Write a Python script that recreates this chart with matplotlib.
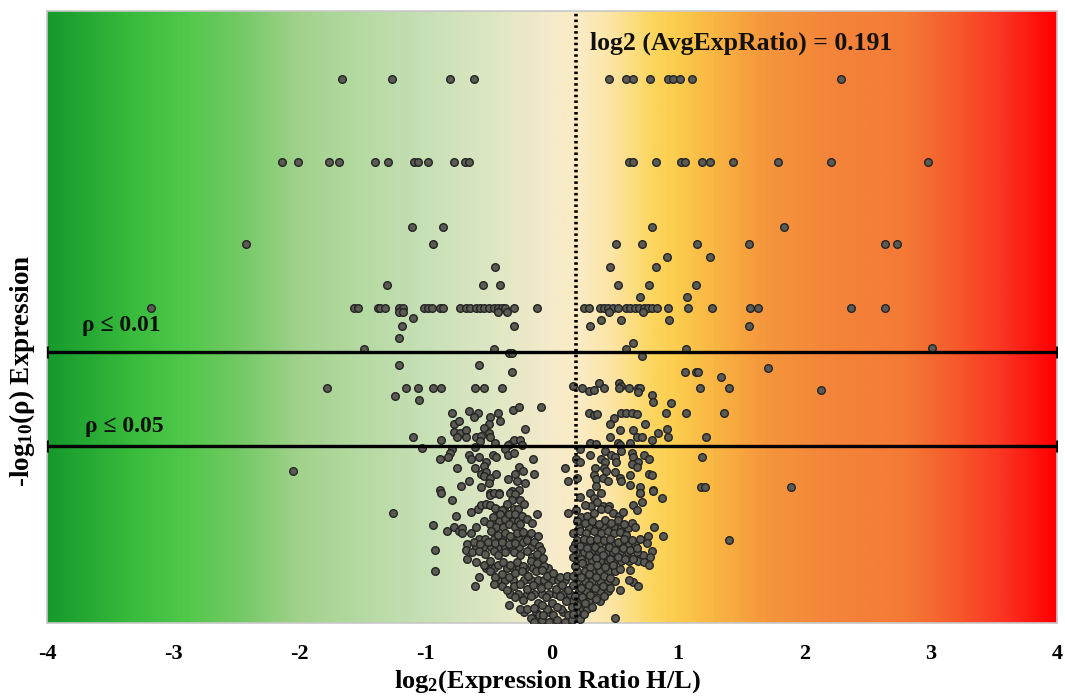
import numpy as np
import matplotlib
matplotlib.use("Agg")
import matplotlib.pyplot as plt
from matplotlib.colors import LinearSegmentedColormap

plt.rcParams['font.family'] = ['Liberation Serif', 'DejaVu Serif']
plt.rcParams['mathtext.fontset'] = 'custom'
plt.rcParams['mathtext.rm'] = 'Liberation Serif:bold'
plt.rcParams['mathtext.it'] = 'Liberation Serif:bold:italic'
plt.rcParams['mathtext.bf'] = 'Liberation Serif:bold'
plt.rcParams['mathtext.default'] = 'rm'

# ---------------- data ----------------
avg_log2_ratio = 0.191
p_thresholds = [0.01, 0.05]
x_ticks = [-4, -3, -2, -1, 0, 1, 2, 3, 4]

# discrete -log10(p) levels with their log2 ratios
row_levels = [4.01, 3.40, 2.92, 2.79, 2.70, 2.62, 2.49, 2.40, 2.32, 2.29, 2.19, 2.02]
row_ratios = [
    [-1.66, -1.27, -0.81, -0.62, 0.45, 0.59, 0.64, 0.78, 0.92, 0.96, 1.01, 1.11, 2.29],
    [-2.14, -2.01, -1.77, -1.69, -1.40, -1.30, -1.09, -1.06, -0.98, -0.78, -0.69, -0.66,
     0.61, 0.64, 0.82, 1.02, 1.05, 1.19, 1.25, 1.43, 1.79, 2.21, 2.98],
    [-1.11, -0.86, 0.79, 1.84],
    [-2.42, -0.94, 0.51, 0.71, 1.15, 1.56, 2.64, 2.73],
    [0.91, 1.25],
    [-0.45, 0.46, 0.82],
    [-1.31, -0.55, -0.41, 0.52, 0.77, 1.14],
    [0.70, 1.07],
    [-3.18, -1.57, -1.54, -1.38, -1.36, -1.32, -1.21, -1.18, -1.01, -0.98, -0.95, -0.89,
     -0.86, -0.73, -0.68, -0.65, -0.60, -0.57, -0.54, -0.50, -0.46, -0.43, -0.40, -0.37,
     -0.30, -0.12, 0.25, 0.29, 0.38, 0.41, 0.44, 0.48, 0.52, 0.59, 0.62, 0.66, 0.69, 0.73,
     0.76, 0.79, 0.83, 0.92, 1.08, 1.27, 1.57, 1.63, 2.37, 2.64],
    [-1.21, -1.18, -0.43, -0.36, 0.45, 0.72],
    [-1.19, -0.30, 0.30, 1.56],
    [-1.49, -0.46, 0.59, 1.06],
]

# scattered proteins above the p=0.05 line
upper_ratio = [-1.10, 0.39, 0.55, 0.93, -1.21, 0.64, 3.01, -0.34, -0.32, 0.71, -1.21, -0.58,
               -0.32, -1.16, -1.06, -0.94, -0.88, -0.61, -0.54, -0.40, -1.78, -1.24, -1.05,
               -0.09, -0.31, -0.26, -0.79, -0.66, -0.59, -0.62, -0.49, -0.43, -0.41, -0.78,
               -0.74, -0.50, -0.21, -0.54, -0.78, -0.73, -0.68, -0.75, -0.68, -0.60, -0.56,
               -0.50, -0.49, -0.57, -1.10, -0.88, -0.45, -0.33, -0.30, -0.25, -0.35, -0.24,
               1.05, 1.14, 1.16, 1.34, 0.17, 0.24, 0.29, 0.33, 0.37, 0.41, 0.53, 0.55, 0.53,
               0.61, 0.68, 0.70, 0.68, 1.17, 1.40, 0.79, 0.80, 0.94, 0.29, 0.33, 0.36, 0.55,
               0.59, 0.63, 0.67, 0.90, 1.06, 1.36, 0.49, 0.46, 0.74, 0.54, 0.64, 0.91, 0.84,
               0.92, 0.79, 0.67, 0.71, 0.46, 1.22, 0.30, 0.35, 0.52, 0.54, 0.62, 1.71, 2.13]
upper_logp = [2.25, 2.23, 2.23, 2.23, 2.10, 2.06, 2.03, 1.99, 1.99, 1.97, 1.90, 1.90,
              1.85, 1.73, 1.73, 1.73, 1.73, 1.73, 1.73, 1.73, 1.73, 1.67, 1.64,
              1.59, 1.57, 1.59, 1.55, 1.56, 1.55, 1.52, 1.52, 1.55, 1.49, 1.47,
              1.49, 1.47, 1.43, 1.44, 1.41, 1.40, 1.42, 1.37, 1.37, 1.37, 1.38,
              1.40, 1.37, 1.34, 1.37, 1.35, 1.33, 1.32, 1.35, 1.35, 1.31, 1.31,
              1.85, 1.85, 1.85, 1.81, 1.75, 1.73, 1.71, 1.72, 1.77, 1.73, 1.77, 1.75, 1.73,
              1.73, 1.73, 1.73, 1.70, 1.73, 1.73, 1.68, 1.63, 1.62, 1.55, 1.53, 1.54, 1.55,
              1.55, 1.55, 1.54, 1.55, 1.55, 1.55, 1.51, 1.47, 1.47, 1.42, 1.42, 1.43, 1.40,
              1.37, 1.35, 1.37, 1.37, 1.37, 1.37, 1.33, 1.32, 1.33, 1.31, 1.33, 1.88, 1.72]

# proteins just under the p=0.05 line (0.95 - 1.3)
mid_ratio = [-1.03, -0.61, -0.79, -0.81, -0.89, -0.82, -0.66, -0.64, -0.58, -0.47, -0.44,
             -0.37, -0.35, -0.30, -0.52, -0.54, -0.61, -0.15, -0.75, -0.56, -0.52, -0.54,
             -0.49, -0.44, -0.26, -0.29, -0.23, -0.14, 0.10, -0.66, -0.72, -0.56, -0.50,
             -0.35, -0.28, -0.21, -0.89, -0.49, -0.42, -0.32, -0.26, 0.13, -2.05,
             0.22, 0.30, 0.42, 0.47, 0.55, 0.63, 0.64, 0.73, 0.77, 0.19, 0.22, 0.39, 0.42,
             0.50, 0.51, 0.68, 0.63, 0.67, 1.19, 0.34, 0.41, 0.43, 0.50, 0.20, 0.33, 0.35,
             0.40, 0.44, 0.54, 0.55, 0.62, 0.77, 0.79, 0.62, 0.70, 0.80, 0.70, 0.35, 0.30,
             0.39, 1.18, 1.21, 1.89]
mid_logp = [1.29, 1.30, 1.28, 1.25, 1.21, 1.22, 1.24, 1.21, 1.22, 1.24, 1.22,
            1.28, 1.24, 1.25, 1.19, 1.16, 1.14, 1.21, 1.14, 1.10, 1.11, 1.08,
            1.07, 1.10, 1.15, 1.10, 1.12, 1.10, 1.14, 1.05, 1.01, 1.00, 1.03,
            1.06, 1.05, 1.03, 0.98, 0.96, 0.96, 0.97, 0.98, 1.05, 1.12,
            1.28, 1.24, 1.27, 1.24, 1.27, 1.25, 1.22, 1.24, 1.21, 1.21, 1.19, 1.21, 1.19,
            1.22, 1.19, 1.19, 1.17, 1.15, 1.22, 1.14, 1.14, 1.12, 1.11, 1.07, 1.09, 1.06,
            1.07, 1.05, 1.07, 1.05, 1.09, 1.10, 1.09, 1.02, 1.00, 0.98, 0.96, 1.01, 0.96,
            0.96, 1.00, 1.00, 1.00]

# non-significant bulk, lower-left arm
low_left_ratio = [-0.88, -0.79, -0.94, -0.93, -0.93, -0.76, -1.26,
                  -0.83, -0.78, -0.74, -0.71, -0.71, -0.64, -0.60,
                  -0.64, -0.59, -0.56, -0.52,
                  -0.49, -0.46, -0.42, -0.33, -0.29, -0.32, -0.25, -0.22,
                  -0.49, -0.45, -0.40, -0.36, 0.13,
                  -0.47, -0.41, -0.37, -0.34, -0.29, -0.24, -0.20, -0.12, -0.16,
                  -0.49, -0.44, -0.39, -0.34, -0.29, -0.25,
                  -0.48, -0.43, -0.37, -0.33, -0.28, -0.23, -0.17, -0.11,
                  -0.67, -0.62, -0.57, -0.51, -0.45, -0.40, -0.34, -0.29, -0.23, -0.20, -0.14, -0.10, -0.09,
                  -0.68, -0.63, -0.58, -0.53, -0.46, -0.43, -0.37, -0.30, -0.25, -0.20, -0.16, -0.12, -0.07,
                  -0.67, -0.60, -0.54, -0.49, -0.43, -0.39, -0.33, -0.28, -0.23, -0.17, -0.12, -0.06,
                  -0.58, -0.61,
                  -0.49, -0.45, -0.40, -0.34, -0.29, -0.24, -0.19, -0.13, -0.08, -0.04, 0.01, 0.06, 0.12,
                  -0.46, -0.40, -0.36, -0.30, -0.25, -0.20, -0.15, -0.09, -0.03, 0.03, 0.08, 0.13,
                  -0.34, -0.25, -0.29, -0.23, -0.17, -0.11, -0.05, 0.00, 0.06, 0.11, -0.17, -0.10,
                  -0.04, 0.01, 0.07, 0.13,
                  -0.14, -0.08, -0.02, 0.04, 0.10, 0.16, -0.20, -0.14, -0.08, 0.04, 0.16, 0.22, -0.07, 0.19]
low_left_logp = [0.96, 0.91, 0.72, 0.54, 0.38, 0.79, 0.81,
                 0.68, 0.71, 0.68, 0.70, 0.66, 0.66, 0.71,
                 0.82, 0.84, 0.87, 0.88,
                 0.94, 0.96, 0.95, 0.96, 0.95, 0.91, 0.91, 0.88,
                 0.87, 0.85, 0.83, 0.88, 0.81,
                 0.78, 0.80, 0.77, 0.80, 0.80, 0.79, 0.77, 0.80, 0.74,
                 0.73, 0.71, 0.71, 0.73, 0.71, 0.73,
                 0.68, 0.65, 0.66, 0.64, 0.66, 0.67, 0.66, 0.64,
                 0.58, 0.60, 0.58, 0.60, 0.59, 0.60, 0.58, 0.59, 0.60, 0.61, 0.60, 0.57, 0.54,
                 0.54, 0.52, 0.53, 0.51, 0.53, 0.50, 0.52, 0.52, 0.50, 0.53, 0.49, 0.51, 0.48,
                 0.47, 0.45, 0.43, 0.46, 0.43, 0.45, 0.43, 0.45, 0.42, 0.46, 0.44, 0.42,
                 0.34, 0.27,
                 0.38, 0.34, 0.36, 0.34, 0.37, 0.38, 0.35, 0.38, 0.39, 0.35, 0.37, 0.34, 0.35,
                 0.29, 0.27, 0.24, 0.27, 0.29, 0.25, 0.28, 0.26, 0.28, 0.25, 0.28, 0.24,
                 0.13, 0.10, 0.19, 0.17, 0.20, 0.15, 0.19, 0.15, 0.20, 0.16, 0.04, 0.06,
                 0.10, 0.06, 0.10, 0.06,
                 0.01, 0.02, 0.01, 0.02, 0.01, 0.02, 0.10, 0.11, 0.13, 0.12, 0.12, 0.03, 0.06, 0.08]

# non-significant bulk, lower-right arm
low_right_ratio = [0.70, 0.80, 0.87, 0.33, 0.36, 0.22, 0.26,
                   0.64, 0.71, 0.67, 0.81, 0.88, 1.40,
                   0.19, 0.23, 0.28, 0.33, 0.39, 0.44, 0.48, 0.53, 0.56, 0.20, 0.26, 0.32, 0.37,
                   0.42, 0.47, 0.52, 0.57, 0.63, 0.66,
                   0.70, 0.76, 0.75, 0.79, 0.78, 0.72, 0.67, 0.64, 0.73, 0.77,
                   0.17, 0.22, 0.27, 0.33, 0.39, 0.44, 0.49, 0.54, 0.59, 0.20, 0.25, 0.30, 0.36,
                   0.41, 0.46, 0.52, 0.57, 0.63,
                   0.17, 0.22, 0.28, 0.34, 0.39, 0.45, 0.50, 0.56, 0.62, 0.67,
                   0.17, 0.23, 0.29, 0.35, 0.40, 0.46, 0.52, 0.58,
                   0.18, 0.24, 0.30, 0.36, 0.42, 0.48, 0.54, 0.62,
                   0.17, 0.23, 0.29, 0.35, 0.41, 0.46,
                   0.64, 0.68, 0.54, 0.46, 0.61,
                   0.17, 0.23, 0.29, 0.34, 0.40,
                   0.18, 0.24, 0.30, 0.35, 0.41,
                   0.20, 0.26, 0.32, 0.17, 0.25, 0.50]
low_right_logp = [0.96, 0.97, 0.92, 0.92, 0.89, 0.93, 0.87,
                  0.87, 0.89, 0.83, 0.71, 0.64, 0.61,
                  0.83, 0.78, 0.79, 0.81, 0.84, 0.84, 0.81, 0.79, 0.82, 0.75, 0.74, 0.75, 0.73,
                  0.76, 0.74, 0.76, 0.73, 0.74, 0.71,
                  0.62, 0.64, 0.59, 0.53, 0.49, 0.50, 0.52, 0.47, 0.45, 0.43,
                  0.66, 0.68, 0.66, 0.68, 0.66, 0.68, 0.66, 0.67, 0.65, 0.61, 0.62, 0.61, 0.62,
                  0.61, 0.62, 0.60, 0.62, 0.61,
                  0.55, 0.57, 0.55, 0.56, 0.54, 0.56, 0.54, 0.55, 0.54, 0.55,
                  0.49, 0.47, 0.50, 0.48, 0.50, 0.47, 0.49, 0.47,
                  0.42, 0.44, 0.41, 0.43, 0.41, 0.43, 0.40, 0.39,
                  0.35, 0.34, 0.36, 0.34, 0.35, 0.33,
                  0.30, 0.27, 0.24, 0.26, 0.32,
                  0.28, 0.26, 0.28, 0.26, 0.27,
                  0.20, 0.19, 0.21, 0.18, 0.20,
                  0.13, 0.15, 0.12, 0.07, 0.07, 0.04]

# densely packed proteins hidden between the rows above (left arm)
dense_left_ratio = [-0.43, -0.37, -0.31, -0.22, -0.17, -0.11, -0.06, 0.00, 0.05, 0.10,
                    -0.33, -0.27, -0.20, -0.14, -0.08, -0.02, 0.03, 0.09, 0.14,
                    -0.22, -0.13, -0.02, 0.09, 0.21,
                    -0.52, -0.46, -0.36, -0.31, -0.26, -0.21, -0.15, -0.10, -0.03,
                    -0.60, -0.55, -0.48, -0.43, -0.37, -0.32, -0.26, -0.17,
                    -0.58, -0.53, -0.46, -0.40, -0.31, -0.26, -0.20,
                    -0.54, -0.46, -0.42, -0.31, -0.27,
                    -0.44, -0.38, -0.30, -0.27]
dense_left_logp = [0.315, 0.315, 0.315, 0.315, 0.315, 0.315, 0.315, 0.315, 0.315, 0.315,
                   0.215, 0.215, 0.215, 0.215, 0.215, 0.215, 0.215, 0.215, 0.215,
                   0.08, 0.08, 0.08, 0.08, 0.08,
                   0.405, 0.405, 0.405, 0.405, 0.405, 0.405, 0.405, 0.405, 0.405,
                   0.56, 0.56, 0.56, 0.56, 0.56, 0.56, 0.56, 0.56,
                   0.62, 0.62, 0.62, 0.62, 0.62, 0.62, 0.62,
                   0.75, 0.75, 0.75, 0.75, 0.75,
                   0.84, 0.84, 0.84, 0.84]

# densely packed proteins hidden between the rows above (right arm)
dense_right_ratio = [0.20, 0.26, 0.32, 0.38, 0.44, 0.50,
                     0.21, 0.27, 0.33, 0.38, 0.44,
                     0.17, 0.23, 0.29, 0.38,
                     0.21, 0.28,
                     0.20, 0.26, 0.32, 0.38, 0.44, 0.50,
                     0.20, 0.27, 0.32, 0.38, 0.44, 0.49, 0.55, 0.61, 0.68,
                     0.19, 0.25, 0.31, 0.37, 0.43, 0.48, 0.54, 0.60,
                     0.18, 0.24, 0.31, 0.37, 0.44, 0.49, 0.55, 0.61, 0.66,
                     0.21, 0.29, 0.35, 0.41, 0.50, 0.55, 0.60,
                     0.31, 0.40, 0.45]
dense_right_logp = [0.31, 0.31, 0.31, 0.31, 0.31, 0.31,
                    0.235, 0.235, 0.235, 0.235, 0.235,
                    0.16, 0.16, 0.16, 0.16,
                    0.10, 0.10,
                    0.38, 0.38, 0.38, 0.38, 0.38, 0.38,
                    0.455, 0.455, 0.455, 0.455, 0.455, 0.455, 0.455, 0.455, 0.455,
                    0.52, 0.52, 0.52, 0.52, 0.52, 0.52, 0.52, 0.52,
                    0.585, 0.585, 0.585, 0.585, 0.585, 0.585, 0.585, 0.585, 0.585,
                    0.70, 0.70, 0.70, 0.70, 0.70, 0.70, 0.70,
                    0.865, 0.865, 0.865]

# ---------------- figure ----------------
fig = plt.figure(figsize=(10.65, 6.96), dpi=100)
ax = fig.add_axes([47/1065, 1-623/696, (1057-47)/1065, (623-11)/696])

y_top = 4.51
bg_stops = [(-4.0, '#169a2c'), (-3.3, '#3bbd3d'), (-2.9, '#52c84b'), (-2.5, '#72c964'),
            (-2.0, '#a2d28c'), (-1.5, '#b6daa3'), (-1.0, '#c7e0b6'), (-0.5, '#dde6c3'),
            (0.0, '#f6ebcb'), (0.25, '#fbebc2'), (0.5, '#fde4a0'), (0.8, '#fcd65e'),
            (1.0, '#fccc4e'), (1.3, '#f9b542'), (1.7, '#f5963c'), (2.2, '#f4853a'),
            (2.8, '#f47a36'), (3.2, '#f65b2c'), (3.6, '#fa3322'), (4.0, '#ff0000')]
cmap = LinearSegmentedColormap.from_list(
    'bg', [((v + 4) / 8, c) for v, c in bg_stops])
grad = np.linspace(0, 1, 800).reshape(1, -1)
ax.imshow(grad, extent=[-4, 4, 0, y_top], aspect='auto', cmap=cmap,
          interpolation='bilinear', zorder=0)

marker_kw = dict(s=30, facecolor='#5b5b54', edgecolor='#232323', linewidths=1.0, zorder=3)
for lvl, xs in zip(row_levels, row_ratios):
    ax.scatter(xs, [lvl] * len(xs), **marker_kw)
ax.scatter(upper_ratio, upper_logp, **marker_kw)
ax.scatter(mid_ratio, mid_logp, **marker_kw)
ax.scatter(dense_left_ratio, dense_left_logp, **marker_kw)
ax.scatter(dense_right_ratio, dense_right_logp, **marker_kw)
ax.scatter(low_left_ratio, low_left_logp, **marker_kw)
ax.scatter(low_right_ratio, low_right_logp, **marker_kw)

# significance lines
for p in p_thresholds:
    yv = -np.log10(p)
    ax.plot([-4, 4], [yv, yv], color='black', lw=2.4, zorder=4,
            marker='|', markersize=9, markeredgewidth=2, solid_capstyle='butt')

# average ratio line
ax.axvline(avg_log2_ratio, color='black', lw=2.6, linestyle=(0, (0.7, 0.9)), zorder=4)

bold = dict(fontweight='bold', color='#111111')
ax.text(0.30, 4.225, 'log2 (AvgExpRatio) = %.3f' % avg_log2_ratio, fontsize=18.5,
        ha='left', va='baseline', zorder=5, **bold)
ax.text(-3.72, 2.15, 'ρ ≤ 0.01', fontsize=17, ha='left', va='baseline', zorder=5, **bold)
ax.text(-3.70, 1.41, 'ρ ≤ 0.05', fontsize=17, ha='left', va='baseline', zorder=5, **bold)

ax.set_xlim(-4, 4)
ax.set_ylim(0, y_top)
ax.set_xticks(x_ticks)
ax.set_xticklabels([str(t) for t in x_ticks], fontsize=16, fontweight='bold')
ax.tick_params(axis='x', length=0, pad=15)
ax.set_yticks([])
for s in ax.spines.values():
    s.set_color('#c8c8c8')
    s.set_linewidth(1.2)

fig.text(547/1065, 1-688/696, r'log$_2$(Expression Ratio H/L)', fontsize=19,
         ha='center', va='baseline', fontweight='bold')
fig.text(22/1065, 1-371/696, r'-log$_{10}$(ρ) Expression', fontsize=19.5,
         ha='center', va='center', rotation=90, fontweight='bold')

fig.savefig('out.png', dpi=100)
